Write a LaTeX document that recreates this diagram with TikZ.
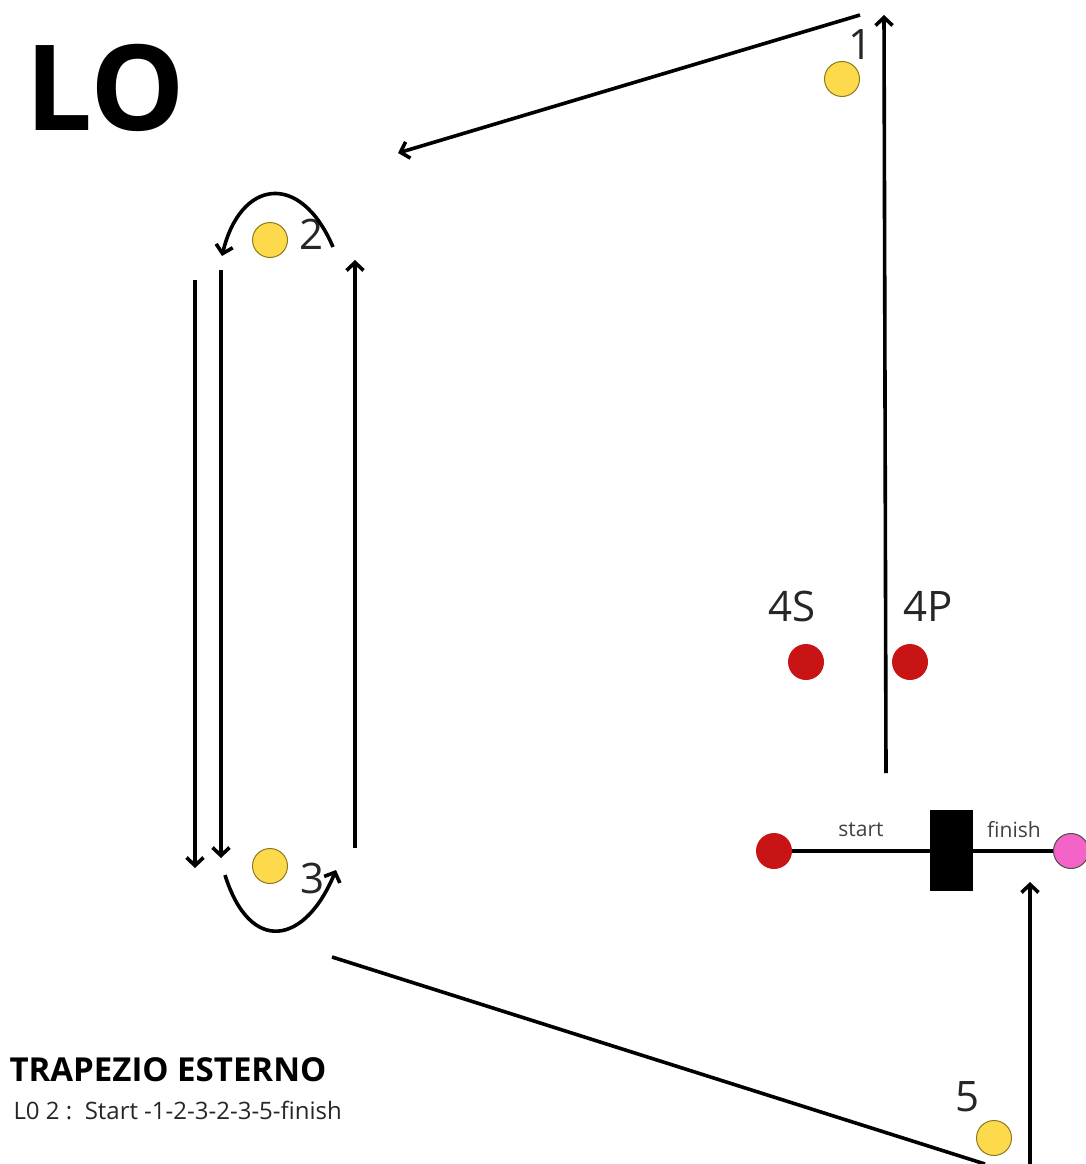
\documentclass[tikz,border=0pt]{standalone}
\usepackage{fontspec}
\setmainfont{Open Sans}
\usepackage{xcolor}
\usetikzlibrary{positioning,arrows.meta}
\definecolor{cono}{HTML}{FDD94C}
\definecolor{conobordo}{HTML}{8C7A1E}
\definecolor{rosso}{HTML}{C81414}
\definecolor{rosa}{HTML}{F463C8}
\tikzset{
  giallo/.style={circle, draw=conobordo, fill=cono, line width=1pt, minimum size=35pt, inner sep=0pt},
  rossa/.style={circle, fill=rosso, minimum size=36pt, inner sep=0pt},
  numero/.style={font=\fontsize{42}{42}\selectfont, text=black!85},
  percorso/.style={line width=3.6pt, ->}
}

\begin{document}
\begin{tikzpicture}[x=1pt, y=-1pt, >={Straight Barb[length=8pt,width=17pt]}]
            \useasboundingbox (0,0) rectangle (1085,1164);
            \node[font=\fontsize{119}{119}\selectfont\bfseries, anchor=west] (titolo) at (22,88) {LO};

            % coni
            \node[giallo] (c1) at (842,79) {};
            \node[giallo] (c2) at (270,240) {};
            \node[giallo] (c3) at (270,866) {};
            \node[giallo] (c5) at (994,1138) {};
            \node[numero] at (860,45) {1};
            \node[numero] at (312,234) {2};
            \node[numero] at (313,878) {3};
            \node[numero] at (967,1097) {5};

            \node[rossa] (s4) at (806,662) {};
            \node[rossa] (p4) at (910,662) {};
            \node[numero] at (792,606) {4S};
            \node[numero] at (928,606) {4P};

            % partenza e arrivo
            \node[rossa] (start) at (774,851) {};
            \node[circle, draw=black!70, fill=rosa, line width=1pt, minimum size=35pt, inner sep=0pt] (finish) at (1071,851) {};
            \draw[line width=3.6pt] (start) -- (finish);
            \node[draw, fill=black, minimum width=42pt, minimum height=80pt, inner sep=0pt] (porta) at (951,850) {};
            \node[font=\fontsize{21}{21}\selectfont, text=black!75] at (861,830) {start};
            \node[font=\fontsize{21}{21}\selectfont, text=black!75] at (1014,830) {finish};

            % frecce
            \coordinate (a0) at (886,773);
            \coordinate (a1) at (884,15);
            \coordinate (b0) at (860,15);
            \coordinate (b1) at (398,153);
            \draw[percorso] (a0) -- (a1);
            \draw[percorso] (b0) -- (b1);

            \coordinate (g0) at (333,247);
            \coordinate (g1) at (222,256);
            \draw[percorso] (g0) .. controls (300,170) and (240,180) .. (g1);

            \coordinate (d0) at (195,280);
            \coordinate (d1) at (195,868);
            \coordinate (e0) at (221,270);
            \coordinate (e1) at (221,858);
            \coordinate (f0) at (355,848);
            \coordinate (f1) at (355,260);
            \draw[percorso] (d0) -- (d1);
            \draw[percorso] (e0) -- (e1);
            \draw[percorso] (f0) -- (f1);

            \coordinate (h0) at (225,875);
            \coordinate (h1) at (336,870);
            \draw[percorso] (h0) .. controls (250,955) and (305,945) .. (h1);

            \coordinate (k0) at (332,957);
            \coordinate (k1) at (985,1164);
            \draw[line width=3.6pt] (k0) -- (k1);

            \coordinate (m0) at (1030,1164);
            \coordinate (m1) at (1030,882);
            \draw[percorso] (m0) -- (m1);

            % legenda
            \node[anchor=west, font=\fontsize{33}{33}\selectfont\bfseries] (legenda) at (6,1070) {TRAPEZIO ESTERNO};
            \node[anchor=west, font=\fontsize{24}{24}\selectfont, text=black!85] at (10,1110) {L0 2 :\ \ Start -1-2-3-2-3-5-finish};
        \end{tikzpicture}
\end{document}
